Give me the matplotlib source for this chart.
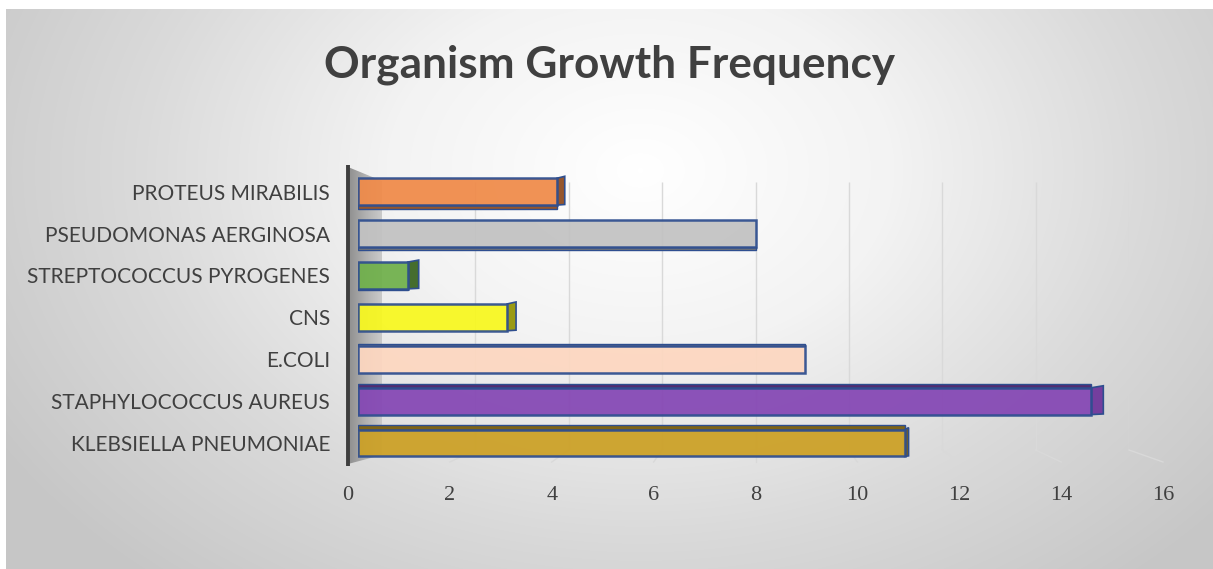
import numpy as np
import matplotlib
matplotlib.use("Agg")
import matplotlib.pyplot as plt
from matplotlib.patches import Polygon
from matplotlib.colors import LinearSegmentedColormap, to_rgb

# ---------------- data ----------------
categories = ["KLEBSIELLA PNEUMONIAE", "STAPHYLOCOCCUS AUREUS", "E.COLI", "CNS",
              "STREPTOCOCCUS PYROGENES", "PSEUDOMONAS AERGINOSA", "PROTEUS MIRABILIS"]
values = [11, 15, 9, 3, 1, 8, 4]
x_ticks = [0, 2, 4, 6, 8, 10, 12, 14, 16]
title = "Organism Growth Frequency"

# ---------------- style ----------------
bar_colors = ["#CCA024", "#8446B4", "#FDD7C0", "#F8F81E", "#6FB04A", "#C2C2C2", "#F08A48"]
side_px = [4, 12, 0, 9, 11, 0, 8]          # visible right face width (pixels)
side_inset = [False, True, False, False, False, False, False]
side_shade = [0.62, 0.88, 0.62, 0.62, 0.62, 0.62, 0.62]
face_px = [5, 4, 2, 0, 1, 3, 4]            # visible top/bottom face thickness (pixels)
face_top = [True, True, True, False, False, False, False]
edge_col = "#2E4E8F"
txt_col = "#404040"

W, H = 1213, 569
fig = plt.figure(figsize=(W / 100, H / 100), dpi=100)
fig.patch.set_facecolor("white")


def fx(px):
    return px / W


def fy(py):
    return 1 - py / H


# ---------------- background (pixel coordinate axes) ----------------
bg = fig.add_axes([fx(6), 0, 1 - fx(6), fy(9)], zorder=0)
bg.set_xlim(6, W)
bg.set_ylim(H, 9)
bg.axis("off")
yy, xx = np.mgrid[9:H, 6:W]
d = np.sqrt(((xx - 640) / 720.0) ** 2 + ((yy - 170) / 520.0) ** 2)
cmap = LinearSegmentedColormap.from_list("bg", ["#FFFFFF", "#F3F3F3", "#DADADA", "#C6C6C6"])
bg.imshow(d, cmap=cmap, vmin=0, vmax=1.05, extent=[6, W, H, 9], aspect="auto",
          interpolation="bilinear", zorder=0)

# side wall
wall = Polygon([(348, 167), (382, 181), (382, 455), (348, 464)], closed=True,
               facecolor="none", edgecolor="none")
bg.add_patch(wall)
wg = np.tile(np.linspace(0, 1, 64), (8, 1))
wcmap = LinearSegmentedColormap.from_list("wall", ["#8E8E8E", "#B0B0B0", "#CACACA"])
im = bg.imshow(wg, cmap=wcmap, extent=[348, 382, 464, 167], aspect="auto", zorder=1)
im.set_clip_path(wall)
bg.plot([348, 348], [165, 466], color="#3E3E3E", lw=2.8, solid_capstyle="butt", zorder=2)

# ---------------- back plane gridlines ----------------
ax_back = fig.add_axes([fx(382), fy(450), fx(1129) - fx(382), fy(182) - fy(450)], zorder=1)
ax_back.set_xlim(0, 16)
ax_back.set_ylim(0, 1)
ax_back.axis("off")
ax_back.patch.set_alpha(0)
grid_col = "#D9D9D9"
ax_back.vlines(x_ticks[1:], 0, 1, color=grid_col, lw=1.0)

# ---------------- tick label axes (front plane) ----------------
axl = fig.add_axes([fx(348), fy(462), fx(1163) - fx(348), fy(461) - fy(462)], zorder=2)
axl.set_xlim(0, 16)
axl.set_ylim(0, 1)
axl.patch.set_alpha(0)
for s in axl.spines.values():
    s.set_visible(False)
axl.set_yticks([])
axl.set_xticks(x_ticks)
axl.set_xticklabels([str(t) for t in x_ticks], fontsize=16, color=txt_col,
                    family="Liberation Serif")
axl.tick_params(axis="x", length=0, pad=17)

# slanted floor segments of gridlines
inv = bg.transData.inverted()
for v in x_ticks[1:]:
    pb = inv.transform(ax_back.transData.transform((v, 0)))
    pf = inv.transform(axl.transData.transform((v, 0)))
    bg.plot([pb[0], pf[0]], [pb[1], pf[1]], color=grid_col, lw=1.0, zorder=1)

# ---------------- bars ----------------
ax = fig.add_axes([fx(358), fy(464), fx(1153) - fx(358), fy(170.75) - fy(464)], zorder=3)
ax.patch.set_alpha(0)
ax.set_xlim(0, 16)
ax.set_ylim(-0.5, 6.5)
bh = 0.64
ypos = np.arange(len(categories))
px_per_x = (1153 - 358) / 16.0
px_per_y = (464 - 170.75) / 7.0

front_len = [v - (side_px[i] / px_per_x if side_inset[i] else 0) for i, v in enumerate(values)]
ax.barh(ypos, front_len, height=bh, color=bar_colors, edgecolor=edge_col, linewidth=1.8,
        alpha=0.93, zorder=3)

for i, (v, c) in enumerate(zip(front_len, bar_colors)):
    dark = tuple(np.array(to_rgb(c)) * side_shade[i])
    if side_px[i] > 0:
        dx = side_px[i] / px_per_x
        dy = 2.0 / px_per_y
        poly = Polygon([(v, i - bh / 2), (v + dx, i - bh / 2 + dy * 0.3),
                        (v + dx, i + bh / 2 + dy), (v, i + bh / 2)], closed=True,
                       facecolor=dark, edgecolor=edge_col, lw=1.2, zorder=2.5)
        ax.add_patch(poly)
    if face_px[i] > 0:
        fdark = tuple(np.array(to_rgb(c)) * 0.62)
        t = face_px[i] / px_per_y
        if face_top[i]:
            y0, y1 = i + bh / 2, i + bh / 2 + t
        else:
            y0, y1 = i - bh / 2 - t, i - bh / 2
        poly = Polygon([(0, y0), (v, y0), (v, y1), (0, y1)], closed=True,
                       facecolor=fdark, edgecolor=edge_col, lw=1.0, zorder=2.4)
        ax.add_patch(poly)

for s in ax.spines.values():
    s.set_visible(False)
ax.set_xticks([])
ax.set_yticks(ypos)
ax.set_yticklabels(categories, fontsize=15, color=txt_col, family="Lato")
ax.tick_params(axis="y", length=0, pad=20)

# ---------------- title ----------------
fig.text(fx(609.5), fy(65), title, ha="center", va="center", fontsize=31.8,
         fontweight="bold", color=txt_col, family="Lato")

fig.savefig("out.png", dpi=100, facecolor=fig.get_facecolor())
